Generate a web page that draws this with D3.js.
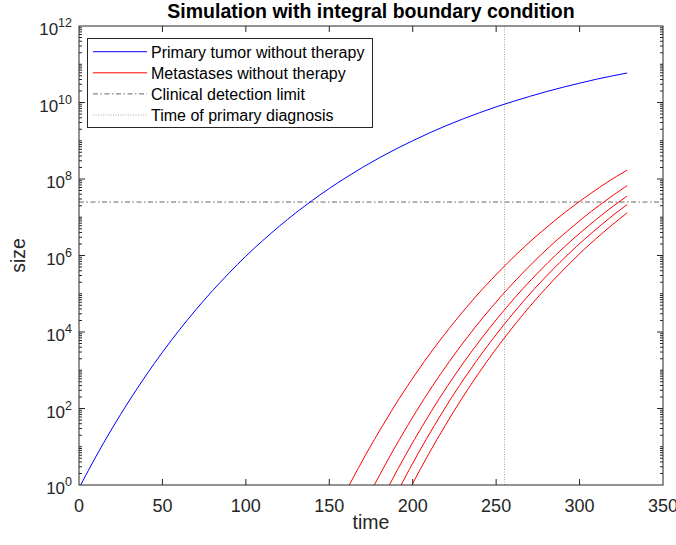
<!DOCTYPE html>
<html>
<head>
<meta charset="utf-8">
<script src="https://cdn.jsdelivr.net/npm/d3@7"></script>
<style>
  body { margin: 0; background: #fff; }
  svg { display: block; font-family: "Liberation Sans", Arial, sans-serif; }
</style>
</head>
<body>
<div id="chart"></div>
<script>
// primary tumour
const primaryTime = [1, 10, 20, 30, 40, 50, 60, 70, 80, 90, 100, 110, 120, 130, 140, 150, 160, 170, 180, 190, 200, 210, 220, 230, 240, 250, 260, 270, 280, 290, 300, 310, 320, 328.5]
const primarySize = [1, 5.4, 31, 157, 718, 2.96e3, 1.11e4, 3.8e4, 1.2e5, 3.5e5, 9.6e5, 2.43e6, 5.8e6, 1.31e7, 2.79e7, 5.65e7, 1.09e8, 2.02e8, 3.58e8, 6.1e8, 1.0e9, 1.6e9, 2.47e9, 3.7e9, 5.4e9, 7.7e9, 1.06e10, 1.44e10, 1.92e10, 2.5e10, 3.2e10, 4.05e10, 5.0e10, 5.9e10]

// metastases
const met1Time = [162, 172, 182, 192, 202, 212, 222, 232, 242, 252, 262, 272, 282, 292, 302, 312, 322, 328.5]
const met1Size = [1, 6.4, 36, 184, 831, 3.4e3, 1.26e4, 4.3e4, 1.35e5, 3.9e5, 1.06e6, 2.67e6, 6.3e6, 1.42e7, 3.0e7, 6.05e7, 1.16e8, 1.7e8]
const met2Time = [177, 187, 197, 207, 217, 227, 237, 247, 257, 267, 277, 287, 297, 307, 317, 327, 328.5]
const met2Size = [1, 6.4, 36, 184, 831, 3.4e3, 1.26e4, 4.3e4, 1.35e5, 3.9e5, 1.06e6, 2.67e6, 6.3e6, 1.42e7, 3.0e7, 6.05e7, 6.7e7]
const met3Time = [186, 196, 206, 216, 226, 236, 246, 256, 266, 276, 286, 296, 306, 316, 326, 328.5]
const met3Size = [1, 6.4, 36, 184, 831, 3.4e3, 1.26e4, 4.3e4, 1.35e5, 3.9e5, 1.06e6, 2.67e6, 6.3e6, 1.42e7, 3.0e7, 3.6e7]
const met4Time = [193, 203, 213, 223, 233, 243, 253, 263, 273, 283, 293, 303, 313, 323, 328.5]
const met4Size = [1, 6.4, 36, 184, 831, 3.4e3, 1.26e4, 4.3e4, 1.35e5, 3.9e5, 1.06e6, 2.67e6, 6.3e6, 1.42e7, 2.15e7]
const met5Time = [199.5, 209.5, 219.5, 229.5, 239.5, 249.5, 259.5, 269.5, 279.5, 289.5, 299.5, 309.5, 319.5, 328.5]
const met5Size = [1, 6.4, 36, 184, 831, 3.4e3, 1.26e4, 4.3e4, 1.35e5, 3.9e5, 1.06e6, 2.67e6, 6.3e6, 1.31e7]

const detectionLimit = 2.5e7
const diagnosisTime = 255

const xTicks = [0, 50, 100, 150, 200, 250, 300, 350]
const yTickExp = [0, 2, 4, 6, 8, 10, 12]
const legendLabels = ["Primary tumor without therapy", "Metastases without therapy", "Clinical detection limit", "Time of primary diagnosis"]

const width = 676
const height = 545
const margin = { top: 26, right: 13, bottom: 60, left: 79 }
const axisColor = "#262626"

const svg = d3.select("#chart")
    .append("svg")
    .attr("width", width)
    .attr("height", height)

const x = d3.scaleLinear()
    .domain([0, 350])
    .range([margin.left, width - margin.right])

const y = d3.scaleLog()
    .domain([1, 1e12])
    .range([height - margin.bottom, margin.top])

const x0 = x.range()[0], x1 = x.range()[1]
const y0 = y.range()[0], y1 = y.range()[1]

svg.append("clipPath").attr("id", "clip")
    .append("rect")
    .attr("x", x0).attr("y", y1)
    .attr("width", x1 - x0).attr("height", y0 - y1)

const plot = svg.append("g").attr("clip-path", "url(#clip)")

// reference lines
plot.append("line")
    .attr("x1", x0).attr("x2", x1)
    .attr("y1", y(detectionLimit)).attr("y2", y(detectionLimit))
    .attr("stroke", "#666").attr("stroke-width", 1)
    .attr("stroke-dasharray", "5,2.5,1.5,2.5")

plot.append("line")
    .attr("x1", x(diagnosisTime)).attr("x2", x(diagnosisTime))
    .attr("y1", y0).attr("y2", y1)
    .attr("stroke", "#aaa").attr("stroke-width", 1)
    .attr("stroke-dasharray", "1,1.5")

const line = d3.line()
    .x(d => x(d[0]))
    .y(d => y(d[1]))
    .curve(d3.curveMonotoneX)

const pairs = (t, s) => t.map((v, i) => [v, s[i]])

const mets = [
    pairs(met1Time, met1Size),
    pairs(met2Time, met2Size),
    pairs(met3Time, met3Size),
    pairs(met4Time, met4Size),
    pairs(met5Time, met5Size)
]

plot.selectAll(".met")
    .data(mets)
    .enter().append("path")
    .attr("class", "met")
    .attr("d", line)
    .attr("fill", "none")
    .attr("stroke", "#ff0000")
    .attr("stroke-width", 1)

plot.append("path")
    .datum(pairs(primaryTime, primarySize))
    .attr("d", line)
    .attr("fill", "none")
    .attr("stroke", "#0000ff")
    .attr("stroke-width", 1)

// axes box + ticks
const axes = svg.append("g").attr("stroke", axisColor).attr("stroke-width", 1)

axes.append("rect")
    .attr("x", x0).attr("y", y1)
    .attr("width", x1 - x0).attr("height", y0 - y1)
    .attr("fill", "none")

axes.selectAll(".xt")
    .data(xTicks.slice(1, -1))
    .enter().append("path")
    .attr("d", d => `M${x(d)},${y0}v-6M${x(d)},${y1}v6`)

// minor log ticks
const minor = []
for (let e = 0; e < 12; e++) {
    for (let k = 1; k < 10; k++) {
        if (k == 1 && e % 2 == 0) continue
        minor.push(k * Math.pow(10, e))
    }
}
axes.selectAll(".ym")
    .data(minor)
    .enter().append("path")
    .attr("d", d => `M${x0},${y(d)}h3M${x1},${y(d)}h-3`)

axes.selectAll(".yt")
    .data(yTickExp.slice(1, -1))
    .enter().append("path")
    .attr("d", d => `M${x0},${y(Math.pow(10, d))}h6M${x1},${y(Math.pow(10, d))}h-6`)

// tick labels
svg.append("g")
    .selectAll("text")
    .data(xTicks)
    .enter().append("text")
    .attr("x", d => x(d))
    .attr("y", y0 + 27)
    .attr("text-anchor", "middle")
    .attr("font-size", 18)
    .attr("fill", axisColor)
    .text(d => d)

const yl = svg.append("g")
    .selectAll("text")
    .data(yTickExp)
    .enter().append("text")
    .attr("x", x0 - 7)
    .attr("y", d => y(Math.pow(10, d)) + 9)
    .attr("text-anchor", "end")
    .attr("font-size", 17)
    .attr("fill", axisColor)
yl.append("tspan").text("10")
yl.append("tspan").attr("dy", -8).attr("font-size", 12.5).text(d => d)

// labels
svg.append("text")
    .attr("x", (x0 + x1) / 2)
    .attr("y", 18)
    .attr("text-anchor", "middle")
    .attr("font-size", 19.5)
    .attr("font-weight", "bold")
    .attr("fill", "#000")
    .text("Simulation with integral boundary condition")

svg.append("text")
    .attr("x", (x0 + x1) / 2)
    .attr("y", 529)
    .attr("text-anchor", "middle")
    .attr("font-size", 19.5)
    .attr("fill", axisColor)
    .text("time")

svg.append("text")
    .attr("transform", `translate(25,${(y0 + y1) / 2}) rotate(-90)`)
    .attr("text-anchor", "middle")
    .attr("font-size", 19.5)
    .attr("fill", axisColor)
    .text("size")

// legend
const legend = svg.append("g")
legend.append("rect")
    .attr("x", 87.5).attr("y", 38.5)
    .attr("width", 285).attr("height", 89)
    .attr("fill", "#fff")
    .attr("stroke", axisColor)
    .attr("stroke-width", 1)

const legendStyle = [
    { color: "#0000ff", dash: null },
    { color: "#ff0000", dash: null },
    { color: "#666", dash: "5,2.5,1.5,2.5" },
    { color: "#aaa", dash: "1,1.5" }
]

const item = legend.selectAll(".legend-item")
    .data(legendLabels)
    .enter().append("g")
    .attr("class", "legend-item")
    .attr("transform", (_, i) => `translate(0, ${51.7 + i * 21.1})`)

item.append("line")
    .attr("x1", 93).attr("x2", 147)
    .attr("stroke", (_, i) => legendStyle[i].color)
    .attr("stroke-dasharray", (_, i) => legendStyle[i].dash)
    .attr("stroke-width", 1)

item.append("text")
    .attr("x", 151)
    .attr("y", 5.8)
    .attr("font-size", 16)
    .attr("fill", "#000")
    .text(d => d)
</script>
</body>
</html>
